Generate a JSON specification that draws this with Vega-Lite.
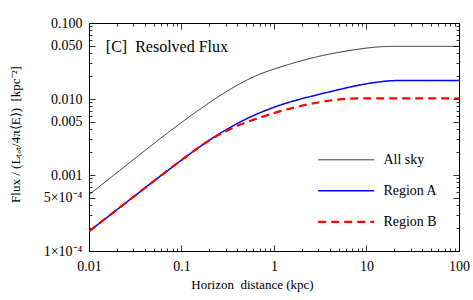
{
  "$schema": "https://vega.github.io/schema/vega-lite/v6.json",
  "width": 370,
  "height": 228,
  "autosize": "none",
  "padding": {"left": 89, "top": 23, "right": 14, "bottom": 49},
  "background": "white",
  "config": {
    "view": {"stroke": "black", "strokeWidth": 1},
    "font": "Liberation Serif",
    "axis": {
      "grid": false,
      "domainColor": "black",
      "tickColor": "black",
      "tickWidth": 0.8,
      "labelFont": "Liberation Serif",
      "labelFontSize": 14,
      "labelColor": "black",
      "titleFont": "Liberation Serif",
      "titleFontWeight": "normal",
      "titleColor": "black",
      "titleFontSize": 13
    },
    "legend": {
      "labelFont": "Liberation Serif",
      "labelFontSize": 14,
      "labelColor": "black"
    }
  },
  "datasets": {
    "curves": [
      {"x": 0.01, "y": 0.000549, "series": "All sky"},
      {"x": 0.0215, "y": 0.001149, "series": "All sky"},
      {"x": 0.0453, "y": 0.00235, "series": "All sky"},
      {"x": 0.1, "y": 0.00491, "series": "All sky"},
      {"x": 0.157, "y": 0.00729, "series": "All sky"},
      {"x": 0.259, "y": 0.01102, "series": "All sky"},
      {"x": 0.426, "y": 0.01585, "series": "All sky"},
      {"x": 0.702, "y": 0.0212, "series": "All sky"},
      {"x": 1.018, "y": 0.0249, "series": "All sky"},
      {"x": 1.897, "y": 0.0314, "series": "All sky"},
      {"x": 3.12, "y": 0.0366, "series": "All sky"},
      {"x": 5.13, "y": 0.0413, "series": "All sky"},
      {"x": 8.45, "y": 0.0455, "series": "All sky"},
      {"x": 13.9, "y": 0.0486, "series": "All sky"},
      {"x": 20.2, "y": 0.0493, "series": "All sky"},
      {"x": 100, "y": 0.0493, "series": "All sky"},
      {"x": 0.01, "y": 0.0001815, "series": "Region A"},
      {"x": 0.0215, "y": 0.0003735, "series": "Region A"},
      {"x": 0.0453, "y": 0.000755, "series": "Region A"},
      {"x": 0.1, "y": 0.00157, "series": "Region A"},
      {"x": 0.157, "y": 0.00235, "series": "Region A"},
      {"x": 0.259, "y": 0.00351, "series": "Region A"},
      {"x": 0.426, "y": 0.00495, "series": "Region A"},
      {"x": 0.702, "y": 0.00658, "series": "Region A"},
      {"x": 1.018, "y": 0.00785, "series": "Region A"},
      {"x": 1.897, "y": 0.00993, "series": "Region A"},
      {"x": 3.12, "y": 0.01156, "series": "Region A"},
      {"x": 5.13, "y": 0.01337, "series": "Region A"},
      {"x": 8.45, "y": 0.01528, "series": "Region A"},
      {"x": 13.9, "y": 0.01683, "series": "Region A"},
      {"x": 20.2, "y": 0.01745, "series": "Region A"},
      {"x": 100, "y": 0.01745, "series": "Region A"},
      {"x": 0.01, "y": 0.0001815, "series": "Region B"},
      {"x": 0.0215, "y": 0.0003735, "series": "Region B"},
      {"x": 0.0453, "y": 0.000755, "series": "Region B"},
      {"x": 0.1, "y": 0.00157, "series": "Region B"},
      {"x": 0.157, "y": 0.00235, "series": "Region B"},
      {"x": 0.259, "y": 0.00343, "series": "Region B"},
      {"x": 0.426, "y": 0.00458, "series": "Region B"},
      {"x": 0.702, "y": 0.00569, "series": "Region B"},
      {"x": 1.152, "y": 0.00687, "series": "Region B"},
      {"x": 1.897, "y": 0.00804, "series": "Region B"},
      {"x": 3.12, "y": 0.00907, "series": "Region B"},
      {"x": 5.13, "y": 0.00988, "series": "Region B"},
      {"x": 8.45, "y": 0.01019, "series": "Region B"},
      {"x": 100, "y": 0.01019, "series": "Region B"}
    ],
    "label": [
      {"x": 0.0152, "y": 0.0483, "text": "[C]\u00a0 Resolved Flux"}
    ]
  },
  "layer": [
    {
      "data": {"name": "curves"},
      "mark": {"type": "line", "interpolate": "monotone", "clip": true},
      "encoding": {
        "x": {
          "field": "x",
          "type": "quantitative",
          "scale": {"type": "log", "domain": [0.01, 100], "nice": false},
          "axis": {
            "orient": "bottom",
            "title": "Horizon\u00a0 distance (kpc)",
            "titleX": 163,
            "titleY": 37.5,
            "titleBaseline": "alphabetic",
            "titleAnchor": "middle",
            "titleFontSize": 13,
            "values": [0.01, 0.02, 0.03, 0.04, 0.05, 0.06, 0.07, 0.08, 0.09, 0.1, 0.2, 0.3, 0.4, 0.5, 0.6, 0.7, 0.8, 0.9, 1, 2, 3, 4, 5, 6, 7, 8, 9, 10, 20, 30, 40, 50, 60, 70, 80, 90, 100],
            "labelExpr": "datum.value == 0.01 ? '0.01' : datum.value == 0.1 ? '0.1' : datum.value == 1 ? '1' : datum.value == 10 ? '10' : datum.value == 100 ? '100' : ''",
            "tickSize": {"condition": {"test": "datum.value == 0.01 || datum.value == 0.1 || datum.value == 1 || datum.value == 10 || datum.value == 100", "value": -6}, "value": -3},
            "labelPadding": 14,
            "labelFlush": false,
            "labelOverlap": false
          }
        },
        "y": {
          "field": "y",
          "type": "quantitative",
          "scale": {"type": "log", "domain": [0.0001, 0.1], "nice": false},
          "axis": {
            "orient": "left",
            "title": "Flux / (Lₜₒₜ/4π⟨E⟩)\u00a0 [kpc⁻²]",
            "titleX": -74,
            "titleY": 111,
            "titleBaseline": "middle",
            "titleAngle": -90,
            "titleFontSize": 13,
            "values": [0.0001, 0.0002, 0.0003, 0.0004, 0.0005, 0.0006, 0.0007, 0.0008, 0.0009, 0.001, 0.002, 0.003, 0.004, 0.005, 0.006, 0.007, 0.008, 0.009, 0.01, 0.02, 0.03, 0.04, 0.05, 0.06, 0.07, 0.08, 0.09, 0.1],
            "labelExpr": "datum.value == 0.1 ? '0.100' : datum.value == 0.05 ? '0.050' : datum.value == 0.01 ? '0.010' : datum.value == 0.005 ? '0.005' : datum.value == 0.001 ? '0.001' : datum.value == 0.0005 ? '5×10⁻⁴' : datum.value == 0.0001 ? '1×10⁻⁴' : ''",
            "tickSize": {"condition": {"test": "datum.value == 0.1 || datum.value == 0.05 || datum.value == 0.01 || datum.value == 0.005 || datum.value == 0.001 || datum.value == 0.0005 || datum.value == 0.0001", "value": -6}, "value": -3},
            "labelPadding": 13,
            "labelFlush": false,
            "labelOverlap": false
          }
        },
        "color": {
          "field": "series",
          "type": "nominal",
          "scale": {"domain": ["All sky", "Region A", "Region B"], "range": ["#000000", "#0000ff", "#ff0000"]},
          "legend": {
            "title": null,
            "orient": "none",
            "legendX": 248.7,
            "legendY": 129.3,
            "padding": 0,
            "symbolType": "M-4,0L4,0",
            "symbolSize": 196,
            "labelOffset": 28.7,
            "rowPadding": 15.5
          }
        },
        "strokeWidth": {
          "field": "series",
          "type": "nominal",
          "scale": {"domain": ["All sky", "Region A", "Region B"], "range": [0.8, 2.2, 2.2]},
          "legend": {
            "title": null,
            "orient": "none",
            "legendX": 248.7,
            "legendY": 129.3,
            "padding": 0,
            "symbolType": "M-4,0L4,0",
            "symbolSize": 196,
            "labelOffset": 28.7,
            "rowPadding": 15.5
          }
        },
        "strokeDash": {
          "field": "series",
          "type": "nominal",
          "scale": {"domain": ["All sky", "Region A", "Region B"], "range": [[1, 0], [1, 0], [8, 5]]},
          "legend": {
            "title": null,
            "orient": "none",
            "legendX": 248.7,
            "legendY": 129.3,
            "padding": 0,
            "symbolType": "M-4,0L4,0",
            "symbolSize": 196,
            "labelOffset": 28.7,
            "rowPadding": 15.5
          }
        }
      }
    },
    {
      "data": {"name": "label"},
      "mark": {"type": "text", "align": "left", "baseline": "middle", "font": "Liberation Serif", "fontSize": 16, "color": "black"},
      "encoding": {
        "x": {
          "field": "x",
          "type": "quantitative",
          "scale": {"type": "log", "domain": [0.01, 100], "nice": false},
          "axis": {
            "orient": "top",
            "title": null,
            "labels": false,
            "domain": false,
            "values": [0.01, 0.02, 0.03, 0.04, 0.05, 0.06, 0.07, 0.08, 0.09, 0.1, 0.2, 0.3, 0.4, 0.5, 0.6, 0.7, 0.8, 0.9, 1, 2, 3, 4, 5, 6, 7, 8, 9, 10, 20, 30, 40, 50, 60, 70, 80, 90, 100],
            "tickSize": {"condition": {"test": "datum.value == 0.01 || datum.value == 0.1 || datum.value == 1 || datum.value == 10 || datum.value == 100", "value": -6}, "value": -3}
          }
        },
        "y": {
          "field": "y",
          "type": "quantitative",
          "scale": {"type": "log", "domain": [0.0001, 0.1], "nice": false},
          "axis": {
            "orient": "right",
            "title": null,
            "labels": false,
            "domain": false,
            "values": [0.0001, 0.0002, 0.0003, 0.0004, 0.0005, 0.0006, 0.0007, 0.0008, 0.0009, 0.001, 0.002, 0.003, 0.004, 0.005, 0.006, 0.007, 0.008, 0.009, 0.01, 0.02, 0.03, 0.04, 0.05, 0.06, 0.07, 0.08, 0.09, 0.1],
            "tickSize": {"condition": {"test": "datum.value == 0.1 || datum.value == 0.05 || datum.value == 0.01 || datum.value == 0.005 || datum.value == 0.001 || datum.value == 0.0005 || datum.value == 0.0001", "value": -6}, "value": -3}
          }
        },
        "text": {"field": "text", "type": "nominal"}
      }
    }
  ],
  "resolve": {"axis": {"x": "independent", "y": "independent"}}
}
